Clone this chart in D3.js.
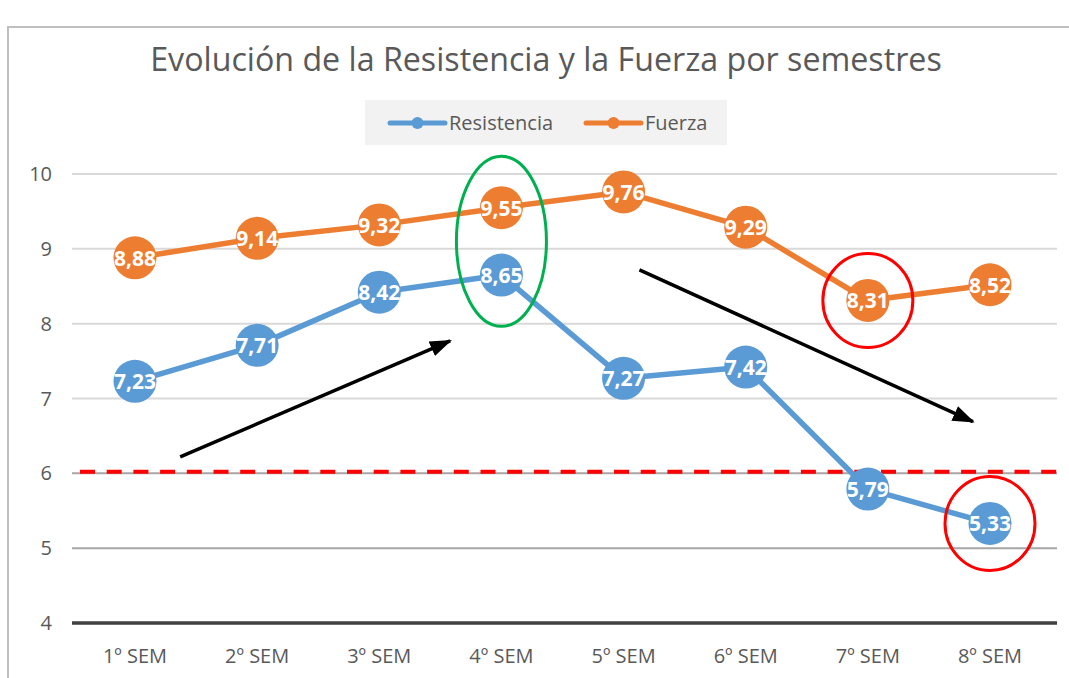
<!DOCTYPE html>
<html><head><meta charset="utf-8">
<script src="https://cdn.jsdelivr.net/npm/d3@7"></script>
<style>body{margin:0;background:#fff}svg{display:block}</style>
</head><body><svg id="c" width="1069" height="678"></svg>
<script>
const categories = ["1º SEM","2º SEM","3º SEM","4º SEM","5º SEM","6º SEM","7º SEM","8º SEM"];
const resistencia = [7.23,7.71,8.42,8.65,7.27,7.42,5.79,5.33];
const fuerza = [8.88,9.14,9.32,9.55,9.76,9.29,8.31,8.52];
const yTicks = [4,5,6,7,8,9,10];
const threshold = 6;
const seriesNames = ["Resistencia","Fuerza"];
const colors = ["#5b9bd5","#ed7d31"];
const title = "Evolución de la Resistencia y la Fuerza por semestres";
// annotations in data coordinates (category index, value)
const ellipses = [
  {i:3, v:9.1, rx:45, ry:85, color:"#00b050"},
  {i:6, v:8.31, rx:45, ry:47, color:"#ff0000"},
  {i:7, v:5.33, rx:45, ry:47, color:"#ff0000"}
];
const arrows = [
  {from:[0.37,6.22], to:[2.58,7.77]},
  {from:[4.13,8.72], to:[6.86,6.69]}
];

const svg = d3.select("#c");
const font = "'Open Sans', 'Noto Sans', sans-serif";
const gridL = 72, gridR = 1057;
const x = d3.scalePoint().domain(categories).range([135, 990]);
const xi = d3.scaleLinear().domain([0, categories.length-1]).range([135, 990]);
const y = d3.scaleLinear().domain([4,10]).range([623,174]);

// outer border
svg.append("rect").attr("x",8).attr("y",27).attr("width",1100).attr("height",700)
  .attr("fill","#fff").attr("stroke","#bfbfbf").attr("stroke-width",2);

// title
const t = svg.append("text").attr("x",546).attr("y",71).attr("text-anchor","middle")
  .attr("fill","#595959").attr("font-family",font).attr("font-size",28).text(title);
const tw = t.node().getComputedTextLength();
t.attr("font-size", 28*792/tw);

// legend
const lg = svg.append("g");
lg.append("rect").attr("x",365).attr("y",100).attr("width",362).attr("height",45).attr("fill","#f2f2f2");
const legX = [390, 586];
seriesNames.forEach((n,k)=>{
  const g = lg.append("g").attr("transform",`translate(${legX[k]},123)`);
  g.append("line").attr("x1",0).attr("x2",55).attr("stroke",colors[k]).attr("stroke-width",5).attr("stroke-linecap","round");
  g.append("circle").attr("cx",27.5).attr("r",6).attr("fill",colors[k]);
  g.append("text").attr("x",59).attr("y",7).attr("fill","#595959").attr("font-family",font).attr("font-size",20).text(n);
});

// gridlines
const gridColor = v => v===4 ? "#404040" : (v<=6 ? "#a6a6a6" : "#d9d9d9");
svg.append("g").selectAll("line").data(yTicks).join("line")
  .attr("x1",gridL).attr("x2",gridR).attr("y1",d=>y(d)).attr("y2",d=>y(d))
  .attr("stroke",gridColor).attr("stroke-width",d=>d===4?3.5:2);

// y labels
svg.append("g").selectAll("text").data(yTicks).join("text")
  .attr("x",52).attr("y",d=>y(d)+7).attr("text-anchor","end")
  .attr("fill","#595959").attr("font-family",font).attr("font-size",20).text(d=>d);

// x labels
svg.append("g").selectAll("text").data(categories).join("text")
  .attr("x",d=>x(d)).attr("y",663).attr("text-anchor","middle")
  .attr("fill","#595959").attr("font-family",font).attr("font-size",20).text(d=>d);

// threshold dashed
svg.append("line").attr("x1",80).attr("x2",gridR).attr("y1",y(threshold)-1.5).attr("y2",y(threshold)-1.5)
  .attr("stroke","#ff0000").attr("stroke-width",4).attr("stroke-dasharray","15,11.7");

// series
[resistencia, fuerza].forEach((vals,k)=>{
  const pts = vals.map((v,j)=>[x(categories[j]), y(v)]);
  svg.append("path").attr("d", d3.line()(pts)).attr("fill","none")
    .attr("stroke",colors[k]).attr("stroke-width",5.5).attr("stroke-linejoin","round");
  svg.append("g").selectAll("circle").data(vals).join("circle")
    .attr("cx",(d,j)=>x(categories[j])).attr("cy",d=>y(d)).attr("r",21.5).attr("fill",colors[k]);
  svg.append("g").selectAll("text").data(vals).join("text")
    .attr("x",(d,j)=>x(categories[j])).attr("y",d=>y(d)+8).attr("text-anchor","middle")
    .attr("fill","#fff").attr("font-family",font).attr("font-weight",700).attr("font-size",21)
    .text(d=>d.toFixed(2).replace(".",","));
});

// annotation ellipses
svg.append("g").selectAll("ellipse").data(ellipses).join("ellipse")
  .attr("cx",d=>xi(d.i)).attr("cy",d=>y(d.v)).attr("rx",d=>d.rx).attr("ry",d=>d.ry)
  .attr("fill","none").attr("stroke",d=>d.color).attr("stroke-width",3);

// arrows
svg.append("defs").append("marker").attr("id","ah").attr("markerUnits","userSpaceOnUse")
  .attr("markerWidth",24).attr("markerHeight",20).attr("refX",20).attr("refY",8)
  .attr("orient","auto").attr("viewBox","0 0 24 16")
  .append("path").attr("d","M0,0 L22,8 L0,16 Z").attr("fill","#000");
svg.append("g").selectAll("line").data(arrows).join("line")
  .attr("x1",d=>xi(d.from[0])).attr("y1",d=>y(d.from[1]))
  .attr("x2",d=>xi(d.to[0])).attr("y2",d=>y(d.to[1]))
  .attr("stroke","#000").attr("stroke-width",3.5).attr("marker-end","url(#ah)");
</script></body></html>
